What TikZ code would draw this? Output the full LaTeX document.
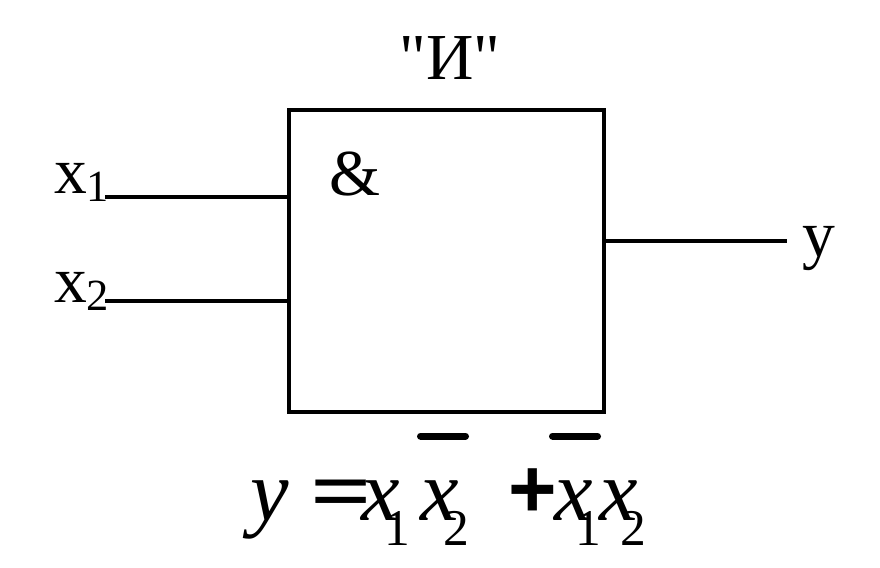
\documentclass[tikz,border=0pt]{standalone}
\usepackage{fontspec}
\setmainfont{Liberation Serif}
\newfontfamily\plainquotes{Liberation Serif}
\newfontfamily\plusfont{Liberation Sans}
\usetikzlibrary{positioning}
\tikzset{
  wire/.style={line width=4pt*0.8536},
  bar/.style={line width=7pt*0.8536,line cap=round},
  big/.style={font=\fontsize{56}{60}\selectfont,inner sep=0pt},
  bigit/.style={font=\fontsize{74}{78}\selectfont\itshape,inner sep=0pt},
  subs/.style={font=\fontsize{38}{42}\selectfont,inner sep=0pt},
  bigsubs/.style={font=\fontsize{44}{48}\selectfont,inner sep=0pt}
}
\begin{document}
\begin{tikzpicture}[x=0.03cm,y=-0.03cm]
\useasboundingbox (0,0) rectangle (880,568);
\node[draw,wire,minimum width=315.5*0.03cm,minimum height=302*0.03cm,inner sep=0pt] (gate) at (446.7,261) {};
\begin{scope}[big]
  \node (title) at (450,58) {\plainquotes "И"};
  \node (amp) at (355,174) {\&};
  \node[anchor=base] (xa) at (71,193) {x};
  \node[anchor=base] (xb) at (71,302) {x};
  \node[anchor=base] (yout) at (819,256) {y};
\end{scope}
\node[subs,anchor=base] (xaidx) at (97.5,202) {1};
\node[subs,anchor=base] (xbidx) at (97.5,310) {2};
\coordinate (ina) at (105,197);
\coordinate (inb) at (105,301);
\coordinate (outa) at (602,241);
\coordinate (outb) at (787,241);
\draw[wire] (ina) -- (ina -| gate.west);
\draw[wire] (inb) -- (inb -| gate.west);
\draw[wire] (outa) -- (outb);
\begin{scope}[bigit]
  \node[anchor=base] (ey) at (270,520) {y};
  \node[anchor=base] (ea) at (381,520) {x};
  \node[anchor=base] (eb) at (440,520) {x};
  \node[anchor=base] (ec) at (574,520) {x};
  \node[anchor=base] (ed) at (619,520) {x};
\end{scope}
\node[big,anchor=base,font=\fontsize{74}{78}\selectfont\bfseries,xscale=1.25] (eq) at (341,520) {=};
\node[big,anchor=base,font=\fontsize{71}{75}\plusfont\bfseries] (plus) at (532.5,517) {+};
\node[bigsubs,anchor=base] (ea1) at (397,545) {1};
\node[bigsubs,anchor=base] (eb2) at (456,545) {2};
\node[bigsubs,anchor=base] (ec1) at (588,545) {1};
\node[bigsubs,anchor=base] (ed2) at (633,545) {2};
\coordinate (ba1) at (420.5,436);
\coordinate (ba2) at (465.5,436);
\coordinate (bb1) at (552.5,436);
\coordinate (bb2) at (597.5,436);
\draw[bar] (ba1) -- (ba2);
\draw[bar] (bb1) -- (bb2);
\end{tikzpicture}
\end{document}
